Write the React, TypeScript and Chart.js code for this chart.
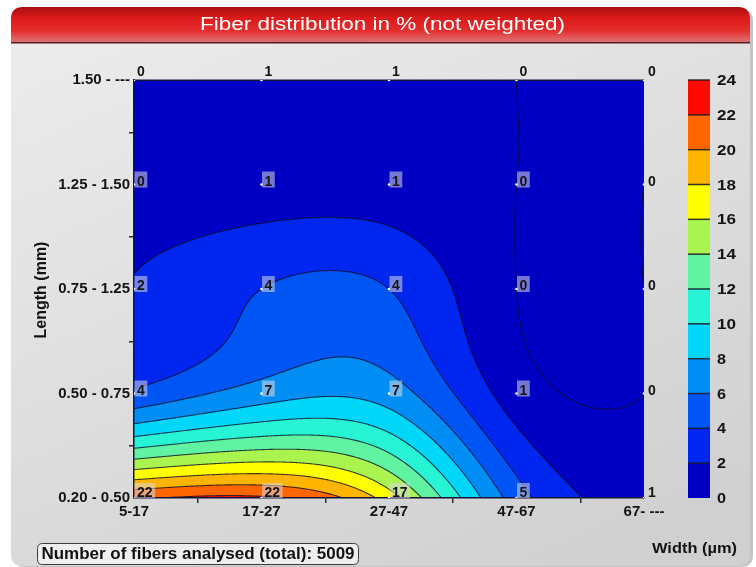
import React, { useEffect, useRef } from 'react';
import { Chart, registerables } from 'chart.js';
Chart.register(...registerables);

// ---- data ----
const WIDTH_CATS = ['5-17', '17-27', '27-47', '47-67', '67- ---'];
const LENGTH_CATS = ['0.20 - 0.50', '0.50 - 0.75', '0.75 - 1.25', '1.25 - 1.50', '1.50 - ---'];
// fiber share in % per length class (rows, bottom to top) and width class (columns);
// labels show rounded values, decimals estimated from the contour positions
const ROW_L020_050 = [21.7, 22.3, 17, 5, 1];
const ROW_L050_075 = [4.4, 7, 7, 1, 0];
const ROW_L075_125 = [2.1, 4, 4, 0, 0];
const ROW_L125_150 = [0.4, 0.9, 0.9, 0, 0];
const ROW_L150_UP = [0.4, 1, 1, 0, 0];
const ROWS = [ROW_L020_050, ROW_L050_075, ROW_L075_125, ROW_L125_150, ROW_L150_UP];
const COLOR_LEVELS = [0, 2, 4, 6, 8, 10, 12, 14, 16, 18, 20, 22, 24];
const BAND_COLORS = [
  '#0000c4', '#0026f0', '#0056f4', '#008ef4', '#00d6f8', '#26f4d4',
  '#60f4a2', '#aaf450', '#ffff00', '#ffb400', '#ff6600', '#ff0a00',
];
const TITLE = 'Fiber distribution in % (not weighted)';
const X_TITLE = 'Width (µm)';
const Y_TITLE = 'Length (mm)';
const TOTAL_FIBERS = 5009;

const W = 756;
const H = 567;
const FONT = '"Liberation Sans", Arial, sans-serif';

function splineM(y: number[]): number[] {
  const n = y.length;
  const M = new Array(n).fill(0);
  const m = n - 2;
  const cp = new Array(m);
  const dp = new Array(m);
  for (let i = 0; i < m; i++) {
    const d = 6 * (y[i + 2] - 2 * y[i + 1] + y[i]);
    if (i === 0) {
      cp[0] = 1 / 4;
      dp[0] = d / 4;
    } else {
      const den = 4 - cp[i - 1];
      cp[i] = 1 / den;
      dp[i] = (d - dp[i - 1]) / den;
    }
  }
  const sol = new Array(m);
  sol[m - 1] = dp[m - 1];
  for (let i = m - 2; i >= 0; i--) sol[i] = dp[i] - cp[i] * sol[i + 1];
  for (let i = 0; i < m; i++) M[i + 1] = sol[i];
  return M;
}

function splineEval(y: number[], M: number[], t: number): number {
  const n = y.length;
  let i = Math.floor(t);
  if (i < 0) i = 0;
  if (i > n - 2) i = n - 2;
  const u = t - i;
  const v = 1 - u;
  return v * y[i] + u * y[i + 1] + ((v * v * v - v) * M[i] + (u * u * u - u) * M[i + 1]) / 6;
}

function hexToRgb(h: string): number[] {
  const n = parseInt(h.slice(1), 16);
  return [(n >> 16) & 255, (n >> 8) & 255, n & 255];
}

function fitText(ctx: CanvasRenderingContext2D, text: string, x: number, y: number, font: string, targetW: number, align: 'left' | 'center') {
  ctx.save();
  ctx.font = font;
  const w = ctx.measureText(text).width;
  const s = targetW / w;
  const x0 = align === 'center' ? x - targetW / 2 : x;
  ctx.translate(x0, y);
  ctx.scale(s, 1);
  ctx.textAlign = 'left';
  ctx.fillText(text, 0, 0);
  ctx.restore();
}

function roundRectPath(ctx: CanvasRenderingContext2D, x: number, y: number, w: number, h: number, r: number[]) {
  const [tl, tr, br, bl] = r;
  ctx.beginPath();
  ctx.moveTo(x + tl, y);
  ctx.lineTo(x + w - tr, y);
  ctx.quadraticCurveTo(x + w, y, x + w, y + tr);
  ctx.lineTo(x + w, y + h - br);
  ctx.quadraticCurveTo(x + w, y + h, x + w - br, y + h);
  ctx.lineTo(x + bl, y + h);
  ctx.quadraticCurveTo(x, y + h, x, y + h - bl);
  ctx.lineTo(x, y + tl);
  ctx.quadraticCurveTo(x, y, x + tl, y);
  ctx.closePath();
}

const contourPlugin = {
  id: 'contourPanel',
  beforeDraw(chart: any) {
    const { ctx, chartArea: ca } = chart;
    const xs = chart.scales.x;
    const ys = chart.scales.y;
    ctx.save();
    ctx.fillStyle = '#ffffff';
    ctx.fillRect(0, 0, W, H);

    // panel shadow
    roundRectPath(ctx, 13, 9, 740, 558, [12, 12, 12, 12]);
    ctx.fillStyle = '#c4c4c4';
    ctx.fill();
    // panel body
    roundRectPath(ctx, 11, 7, 739, 559, [12, 12, 12, 12]);
    const g = ctx.createLinearGradient(11, 40, 300, 700);
    g.addColorStop(0, '#ececec');
    g.addColorStop(1, '#d0d0d0');
    ctx.fillStyle = g;
    ctx.fill();

    // title bar
    roundRectPath(ctx, 11, 7, 739, 36, [12, 12, 0, 0]);
    const tg = ctx.createLinearGradient(0, 7, 0, 43);
    tg.addColorStop(0, '#a80e0e');
    tg.addColorStop(0.3, '#dc1a1a');
    tg.addColorStop(0.65, '#e42c2c');
    tg.addColorStop(0.9, '#e06464');
    tg.addColorStop(1, '#d87070');
    ctx.fillStyle = tg;
    ctx.fill();
    ctx.fillStyle = '#5a1c1c';
    ctx.fillRect(11, 42, 739, 1.5);
    ctx.fillStyle = '#ffffff';
    ctx.textBaseline = 'alphabetic';
    fitText(ctx, TITLE, 382.5, 30, `18px ${FONT}`, 365, 'center');

    // contour fill
    const left = Math.round(ca.left);
    const top = Math.round(ca.top);
    const w = Math.round(ca.right) - left;
    const h = Math.round(ca.bottom) - top;
    const grid = new Float32Array(w * h);
    const rowM = ROWS.map(splineM);
    const colVals: number[] = new Array(ROWS.length);
    const yv = new Float32Array(h);
    for (let k = 0; k < h; k++) yv[k] = ys.getValueForPixel(top + k + 0.5);
    for (let i = 0; i < w; i++) {
      const xv = xs.getValueForPixel(left + i + 0.5);
      for (let j = 0; j < ROWS.length; j++) colVals[j] = splineEval(ROWS[j], rowM[j], xv);
      const cm = splineM(colVals);
      for (let k = 0; k < h; k++) grid[k * w + i] = splineEval(colVals, cm, yv[k]);
    }
    const rgb = BAND_COLORS.map(hexToRgb);
    const img = ctx.createImageData(w, h);
    const step = COLOR_LEVELS[1] - COLOR_LEVELS[0];
    for (let p = 0; p < w * h; p++) {
      let b = Math.floor((grid[p] - COLOR_LEVELS[0]) / step);
      if (b < 0) b = 0;
      if (b > BAND_COLORS.length - 1) b = BAND_COLORS.length - 1;
      const c = rgb[b];
      img.data[p * 4] = c[0];
      img.data[p * 4 + 1] = c[1];
      img.data[p * 4 + 2] = c[2];
      img.data[p * 4 + 3] = 255;
    }
    ctx.putImageData(img, left, top);

    // contour lines (marching squares)
    ctx.beginPath();
    const lineLevels = COLOR_LEVELS.slice(0, COLOR_LEVELS.length - 1);
    for (const L of lineLevels) {
      for (let k = 0; k < h - 1; k++) {
        for (let i = 0; i < w - 1; i++) {
          const a = grid[k * w + i];
          const b = grid[k * w + i + 1];
          const c = grid[(k + 1) * w + i + 1];
          const d = grid[(k + 1) * w + i];
          const ia = a >= L, ib = b >= L, ic = c >= L, id = d >= L;
          if (ia === ib && ib === ic && ic === id) continue;
          const pts: number[] = [];
          const bx = left + i + 0.5;
          const by = top + k + 0.5;
          if (ia !== ib) pts.push(bx + (L - a) / (b - a), by);
          if (ib !== ic) pts.push(bx + 1, by + (L - b) / (c - b));
          if (id !== ic) pts.push(bx + (L - d) / (c - d), by + 1);
          if (ia !== id) pts.push(bx, by + (L - a) / (d - a));
          for (let q = 0; q + 3 < pts.length; q += 4) {
            ctx.moveTo(pts[q], pts[q + 1]);
            ctx.lineTo(pts[q + 2], pts[q + 3]);
          }
        }
      }
    }
    ctx.strokeStyle = 'rgba(10,10,40,0.78)';
    ctx.lineWidth = 1.1;
    ctx.stroke();

    // top frame line
    ctx.fillStyle = '#15153a';
    ctx.fillRect(ca.left, ca.top - 0.5, ca.right - ca.left, 1.5);
    ctx.restore();
  },
  afterDatasetsDraw(chart: any) {
    const { ctx, chartArea: ca } = chart;
    const xs = chart.scales.x;
    const ys = chart.scales.y;
    ctx.save();
    // value labels
    ctx.font = `bold 14px ${FONT}`;
    ctx.textBaseline = 'alphabetic';
    ctx.textAlign = 'left';
    ROWS.forEach((row, j) => {
      row.forEach((v, i) => {
        const px = xs.getPixelForValue(i);
        const py = ys.getPixelForValue(j);
        const text = String(Math.round(v));
        const tw = ctx.measureText(text).width;
        const lastRow = j === ROWS.length - 1;
        const lastCol = i === row.length - 1;
        let tx = px + 3;
        let base = j === 0 ? py - 1 : py + 1;
        if (lastRow) base = py - 4;
        if (lastCol) tx = px + 4;
        if (!lastRow && !lastCol) {
          const bTop = base - 14;
          const bBot = Math.min(base + 2, ca.bottom);
          ctx.fillStyle = 'rgba(215,215,228,0.55)';
          ctx.fillRect(px + 0.5, bTop, tw + 5, bBot - bTop);
        }
        ctx.fillStyle = '#141414';
        ctx.fillText(text, tx, base);
      });
    });

    // color bar
    const cbL = ca.right + 44;
    const cbW = 22;
    const lo = COLOR_LEVELS[0];
    const hi = COLOR_LEVELS[COLOR_LEVELS.length - 1];
    const toY = (v: number) => ca.bottom - ((v - lo) / (hi - lo)) * (ca.bottom - ca.top);
    for (let b = 0; b < BAND_COLORS.length; b++) {
      const y0 = toY(COLOR_LEVELS[b + 1]);
      const y1 = toY(COLOR_LEVELS[b]);
      ctx.fillStyle = BAND_COLORS[b];
      ctx.fillRect(cbL, y0, cbW, y1 - y0);
    }
    ctx.fillStyle = 'rgba(20,20,30,0.85)';
    for (let b = 1; b < COLOR_LEVELS.length; b++) {
      ctx.fillRect(cbL, toY(COLOR_LEVELS[b]) - 0.75, cbW, 1.5);
    }
    ctx.fillStyle = '#141414';
    ctx.textBaseline = 'middle';
    COLOR_LEVELS.forEach((lv) => {
      fitText(ctx, String(lv), cbL + cbW + 7, toY(lv) + 1, `bold 15px ${FONT}`, lv >= 10 ? 19 : 9, 'left');
    });

    // axis titles
    ctx.textBaseline = 'middle';
    fitText(ctx, X_TITLE, 652, 549, `bold 15px ${FONT}`, 85, 'left');
    ctx.save();
    ctx.translate(42, 290);
    ctx.rotate(-Math.PI / 2);
    ctx.textAlign = 'center';
    ctx.font = `bold 16px ${FONT}`;
    ctx.fillText(Y_TITLE, 0, 0);
    ctx.restore();

    // total box
    roundRectPath(ctx, 37.5, 543.5, 321, 21, [5, 5, 5, 5]);
    ctx.fillStyle = '#eeeeee';
    ctx.fill();
    ctx.strokeStyle = '#3a3a3a';
    ctx.lineWidth = 1;
    ctx.stroke();
    ctx.fillStyle = '#111111';
    fitText(ctx, `Number of fibers analysed (total): ${TOTAL_FIBERS}`, 198, 555, `bold 16px ${FONT}`, 313, 'center');
    ctx.restore();
  },
};

export default function App() {
  const ref = useRef<HTMLCanvasElement>(null);
  useEffect(() => {
    const canvas = ref.current!;
    const points: { x: number; y: number }[] = [];
    ROWS.forEach((row, j) => row.forEach((_v, i) => points.push({ x: i, y: j })));
    const tickColor = (c: any) => (c.tick && c.tick.value % 1 !== 0 ? '#2a2a2a' : 'rgba(0,0,0,0)');
    const chart = new Chart(canvas, {
      type: 'scatter',
      data: {
        datasets: [
          {
            data: points,
            pointRadius: 1.3,
            pointHoverRadius: 1.3,
            pointBackgroundColor: '#ffffff',
            pointBorderWidth: 0,
          },
        ],
      },
      options: {
        responsive: false,
        animation: false,
        devicePixelRatio: 1,
        events: [],
        layout: { padding: { left: 0, top: 80, right: 112, bottom: 49 } },
        plugins: { legend: { display: false }, tooltip: { enabled: false }, title: { display: false } },
        scales: {
          x: {
            type: 'linear',
            min: 0,
            max: WIDTH_CATS.length - 1,
            ticks: {
              stepSize: 0.5,
              autoSkip: false,
              maxRotation: 0,
              padding: 0,
              color: '#141414',
              font: { family: FONT, size: 15, weight: 'bold' },
              callback: (v: any) => (Number.isInteger(v) ? WIDTH_CATS[v] : ''),
            },
            grid: { drawOnChartArea: false, tickLength: 5, color: tickColor, lineWidth: 1.5 },
            border: { display: true, color: '#15153a', width: 1.5 },
            afterFit: (s: any) => {
              s.height = 20;
            },
          },
          y: {
            type: 'linear',
            min: 0,
            max: LENGTH_CATS.length - 1,
            ticks: {
              stepSize: 0.5,
              autoSkip: false,
              padding: -1,
              color: '#141414',
              font: { family: FONT, size: 15, weight: 'bold' },
              callback: (v: any) => (Number.isInteger(v) ? LENGTH_CATS[v] : ''),
            },
            grid: { drawOnChartArea: false, tickLength: 5, color: tickColor, lineWidth: 1.5 },
            border: { display: true, color: '#15153a', width: 1.5 },
            afterFit: (s: any) => {
              s.width = 134;
            },
          },
        },
      } as any,
      plugins: [contourPlugin],
    });
    return () => chart.destroy();
  }, []);
  return (
    <div style={{ position: 'fixed', left: 0, top: 0, width: W, height: H, background: '#fff' }}>
      <canvas ref={ref} width={W} height={H} style={{ display: 'block', width: W, height: H }} />
    </div>
  );
}
